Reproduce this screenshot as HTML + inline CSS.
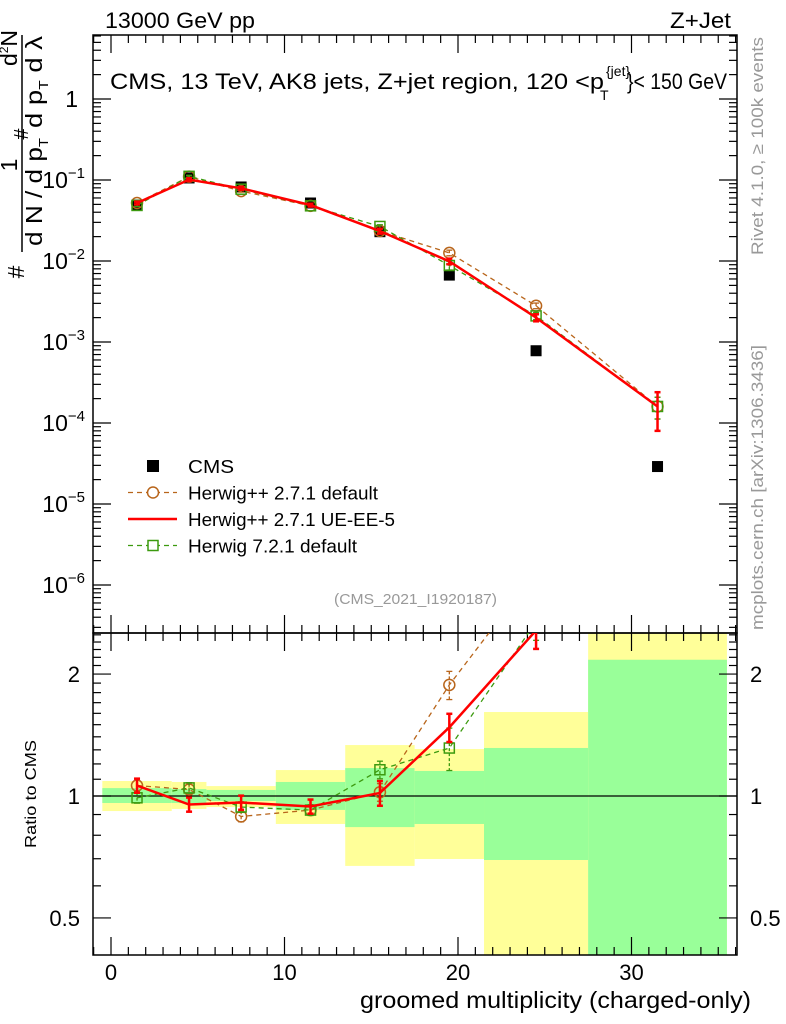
<!DOCTYPE html>
<html><head><meta charset="utf-8"><style>
html,body{margin:0;padding:0;background:#fff;}
svg{display:block;font-family:"Liberation Sans",sans-serif;}
</style></head><body>
<svg id="chart" width="786" height="1024" viewBox="0 0 786 1024" xmlns="http://www.w3.org/2000/svg">
<g id="bands"></g>
<g id="grid"></g>
<g id="series"></g>
<text x="105" y="28" font-size="22" textLength="150" lengthAdjust="spacingAndGlyphs">13000 GeV pp</text>
<text x="670" y="28" font-size="22" textLength="61" lengthAdjust="spacingAndGlyphs">Z+Jet</text>
<g font-size="22">
<text x="110" y="89" textLength="494" lengthAdjust="spacingAndGlyphs">CMS, 13 TeV, AK8 jets, Z+jet region, 120 &lt;p</text>
<text x="606" y="76" font-size="14">{jet}</text>
<text x="600" y="100" font-size="14">T</text>
<text x="627" y="89" textLength="100" lengthAdjust="spacingAndGlyphs">}&lt; 150 GeV</text>
</g>
<text x="334" y="604" font-size="15" fill="#999" textLength="163" lengthAdjust="spacingAndGlyphs">(CMS_2021_I1920187)</text>
<text transform="translate(763,255) rotate(-90)" font-size="17" fill="#999" textLength="218" lengthAdjust="spacingAndGlyphs">Rivet 4.1.0, ≥ 100k events</text>
<text transform="translate(763,630) rotate(-90)" font-size="17" fill="#999" textLength="285" lengthAdjust="spacingAndGlyphs">mcplots.cern.ch [arXiv:1306.3436]</text>
<g font-size="23">
<line x1="22" y1="35" x2="22" y2="252" stroke="#000" stroke-width="1.5"/>
<text transform="translate(24,272) rotate(-90)" text-anchor="middle">#</text>
<text transform="translate(17,165) rotate(-90)" text-anchor="middle">1</text>
<text transform="translate(28,134) rotate(-90)" text-anchor="middle" font-size="20">#</text>
<text transform="translate(17,48) rotate(-90)" text-anchor="middle">d<tspan font-size="12" dy="-9">2</tspan><tspan dy="9">N</tspan></text>
<text transform="translate(42,192) rotate(-90)" text-anchor="middle" textLength="108" lengthAdjust="spacingAndGlyphs">d N / d p<tspan font-size="13" dy="6">T</tspan></text>
<text transform="translate(42,82) rotate(-90)" text-anchor="middle" textLength="92" lengthAdjust="spacingAndGlyphs">d p<tspan font-size="13" dy="6">T</tspan><tspan dy="-6"> d λ</tspan></text>
</g>
<text transform="translate(36,794) rotate(-90)" font-size="16" text-anchor="middle" textLength="108" lengthAdjust="spacingAndGlyphs">Ratio to CMS</text>
<text x="360" y="1008" font-size="23" textLength="391" lengthAdjust="spacingAndGlyphs">groomed multiplicity (charged-only)</text>
<g id="legend" font-size="18"></g>
</svg>
<script>
const binEdges=[-0.5,3.5,5.5,9.5,13.5,17.5,21.5,27.5,35.5];
const binCenters=[1.5,4.5,7.5,11.5,15.5,19.5,24.5,31.5];
const cmsValues=[0.049,0.106,0.082,0.052,0.023,0.0067,7.8e-4,2.9e-5];
const herwigppDefault=[0.052,0.110,0.073,0.048,0.0235,0.0126,2.8e-3,1.6e-4];
const herwigppUEEE5=[0.052,0.101,0.079,0.049,0.0234,0.0099,2.0e-3,1.6e-4];
const herwig721=[0.0485,0.111,0.077,0.048,0.0267,0.0088,2.1e-3,1.6e-4];
const relErrRed=[0.04,0.04,0.04,0.04,0.07,0.08,0.1,0.5];
const relErrBrown=[0.03,0.03,0.03,0.03,0.05,0.08,0.08,0.3];
const relErrGreen=[0.03,0.03,0.03,0.03,0.05,0.12,0.1,0.3];
const bandGreenHi=[1.046,1.04,1.035,1.083,1.172,1.153,1.314,2.17];
const bandGreenLo=[0.961,0.961,0.972,0.924,0.838,0.853,0.695,0.2];
const bandYellowHi=[1.089,1.083,1.058,1.159,1.336,1.306,1.612,3];
const bandYellowLo=[0.918,0.929,0.939,0.853,0.672,0.699,0.2,0.2];
const xTicks=[0,10,20,30];
const mainTickExp=[0,-1,-2,-3,-4,-5,-6];
const ratioTicks=[0.5,1,2];

const NS="http://www.w3.org/2000/svg";
const L=93,R=737,MT=35,MB=633,RT=633,RB=955;
const X=v=>111+(v)*17.35;
const Ym=v=>99-81*Math.log10(v);
const Yr=v=>796-405*Math.log10(v);
function el(tag,attrs,parent){const e=document.createElementNS(NS,tag);for(const k in attrs)e.setAttribute(k,attrs[k]);parent.appendChild(e);return e;}
const bands=document.getElementById('bands'),grid=document.getElementById('grid'),series=document.getElementById('series'),legend=document.getElementById('legend');
const clampR=y=>Math.max(RT,Math.min(RB,y));
for(let i=0;i<binCenters.length;i++){
  const x0=X(binEdges[i]),x1=X(binEdges[i+1]);
  const yb=el('rect',{x:x0,y:clampR(Yr(bandYellowHi[i])),width:x1-x0,height:clampR(Yr(bandYellowLo[i]))-clampR(Yr(bandYellowHi[i])),fill:'#ffff99'},bands);
  
  
  const gb=el('rect',{x:x0,y:clampR(Yr(bandGreenHi[i])),width:x1-x0,height:clampR(Yr(bandGreenLo[i]))-clampR(Yr(bandGreenHi[i])),fill:'#99ff99'},bands);
  
  
}
el('rect',{x:L,y:MT,width:R-L,height:MB-MT,fill:'none',stroke:'#000','stroke-width':1.5},grid);
el('rect',{x:L,y:RT,width:R-L,height:RB-RT,fill:'none',stroke:'#000','stroke-width':1.5},grid);
el('line',{x1:L,x2:R,y1:Yr(1),y2:Yr(1),stroke:'#000','stroke-width':1.2},grid);
for(let v=-1;v<=36;v++){
  const x=X(v);if(x<L||x>R)continue;
  const maj=v%10===0,len=maj?18:8;
  [[MT,1],[MB,-1],[RT,1],[RB,-1]].forEach(([y,d])=>el('line',{x1:x,x2:x,y1:y,y2:y+d*len,stroke:'#000','stroke-width':1.2},grid));
}
xTicks.forEach(v=>{const t=el('text',{x:X(v),y:980,'font-size':22,'text-anchor':'middle'},grid);t.textContent=v;

});
for(let e=1;e>=-7;e--){for(let m=1;m<10;m++){const y=Ym(m*Math.pow(10,e));if(y<MT||y>MB)continue;const len=m===1?18:8;
el('line',{x1:L,x2:L+len,y1:y,y2:y,stroke:'#000','stroke-width':1.2},grid);el('line',{x1:R,x2:R-len,y1:y,y2:y,stroke:'#000','stroke-width':1.2},grid);}}
mainTickExp.forEach(e=>{const y=Ym(Math.pow(10,e));const t=el('text',{x:e===0?78:85,y:y+8,'font-size':23,'text-anchor':'end'},grid);
if(e===0)t.textContent='1';else{t.textContent='10';const s=el('tspan',{'font-size':15,dy:-10},t);s.textContent=e===-1?'−1':'−'+(-e);}

});
for(let v=0.4;v<=2.6;v+=0.1){const vv=Math.round(v*10)/10;const y=Yr(vv);if(y<RT||y>RB)continue;const maj=[0.5,1,2].includes(vv);const len=maj?18:8;
el('line',{x1:L,x2:L+len,y1:y,y2:y,stroke:'#000','stroke-width':1.2},grid);el('line',{x1:R,x2:R-len,y1:y,y2:y,stroke:'#000','stroke-width':1.2},grid);}
ratioTicks.forEach(v=>{[[80,'end'],[750,'start']].forEach(([x,a])=>{const t=el('text',{x:x,y:Yr(v)+8,'font-size':22,'text-anchor':a},grid);t.textContent=v;

});});
const defs=el('defs',{},document.getElementById('chart'));
const c1=el('clipPath',{id:'cm'},defs);el('rect',{x:L,y:MT,width:R-L,height:MB-MT},c1);
const c2=el('clipPath',{id:'cr'},defs);el('rect',{x:L,y:RT,width:R-L,height:RB-RT},c2);
const gm=el('g',{'clip-path':'url(#cm)'},series),gr=el('g',{'clip-path':'url(#cr)'},series);
cmsValues.forEach((v,i)=>{const r=el('rect',{x:X(binCenters[i])-5.5,y:Ym(v)-5.5,width:11,height:11,fill:'#000'},gm);

});
const mc=[
 {vals:herwigppDefault,err:relErrBrown,col:'#b8651b',dash:'5,4',mk:'circle',w:1.3,name:'herwigpp-default'},
 {vals:herwig721,err:relErrGreen,col:'#3c9a0f',dash:'5,4',mk:'square',w:1.3,name:'herwig721-default'},
 {vals:herwigppUEEE5,err:relErrRed,col:'#ff0000',dash:'',mk:'none',w:2.5,name:'herwigpp-ue-ee-5'}];
mc.forEach(s=>{
 [[gm,(v,i)=>Ym(v)],[gr,(v,i)=>Yr(v/cmsValues[i])]].forEach(([g,f])=>{
  const pts=s.vals.map((v,i)=>X(binCenters[i])+','+f(v,i)).join(' ');
  const p=el('polyline',{points:pts,fill:'none',stroke:s.col,'stroke-width':s.w,'stroke-dasharray':s.dash},g);
  
  
  s.vals.forEach((v,i)=>{const x=X(binCenters[i]);const y1=f(v*(1+s.err[i]),i),y2=f(v*(1-s.err[i]),i);
   el('line',{x1:x,x2:x,y1:y1,y2:y2,stroke:s.col,'stroke-width':s.mk==='none'?2.5:1.3,'stroke-dasharray':s.mk==='none'?'':'3,2'},g);
   el('line',{x1:x-3,x2:x+3,y1:y1,y2:y1,stroke:s.col,'stroke-width':s.mk==='none'?2.5:1.3},g);
   el('line',{x1:x-3,x2:x+3,y1:y2,y2:y2,stroke:s.col,'stroke-width':s.mk==='none'?2.5:1.3},g);
   const y=f(v,i);
   if(s.mk==='circle'){const c=el('circle',{cx:x,cy:y,r:5.5,fill:'none',stroke:s.col,'stroke-width':1.5},g);
    
    }
   if(s.mk==='square'){const c=el('rect',{x:x-5,y:y-5,width:10,height:10,fill:'none',stroke:s.col,'stroke-width':1.5},g);
    
    }
  });
 });
});
const leg=[['CMS','#000','','sq','',46],['Herwig++ 2.7.1 default','#b8651b','5,4','circle',1.3,190],['Herwig++ 2.7.1 UE-EE-5','#ff0000','','none',2.5,207],['Herwig 7.2.1 default','#3c9a0f','5,4','square',1.3,169]];
leg.forEach((l,i)=>{const y=466+i*26.5;const g=el('g',{},legend);
 
 
 if(l[3]==='sq')el('rect',{x:147,y:y-6,width:12,height:12,fill:'#000'},g);
 else{el('line',{x1:128,x2:177,y1:y,y2:y,stroke:l[1],'stroke-width':l[4],'stroke-dasharray':l[2]},g);
  if(l[3]==='circle')el('circle',{cx:153,cy:y,r:5.5,fill:'#fff',stroke:l[1],'stroke-width':1.5},g);
  if(l[3]==='square')el('rect',{x:148,y:y-5,width:10,height:10,fill:'#fff',stroke:l[1],'stroke-width':1.5},g);}
 const t=el('text',{x:188,y:y+7,textLength:l[5],lengthAdjust:'spacingAndGlyphs'},g);t.textContent=l[0];});
</script>
</body></html>
